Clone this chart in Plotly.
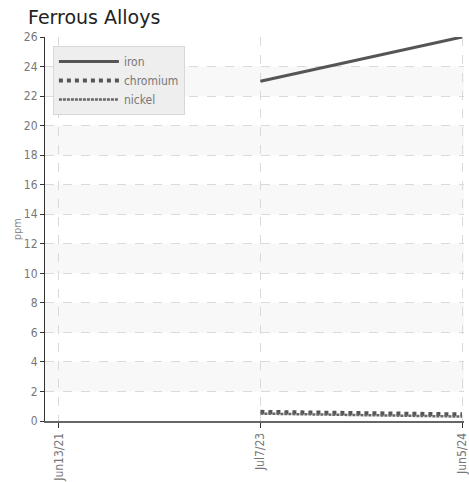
import plotly.graph_objects as go

dates = ["Jun13/21", "Jul7/23", "Jun5/24"]
iron = [None, 23.0, 26.0]
chromium = [None, 0.62, 0.45]
nickel = [None, 0.5, 0.3]

font = "DejaVu Sans Condensed, Liberation Sans, sans-serif"

fig = go.Figure()
fig.add_trace(go.Scatter(x=dates, y=iron, name="iron", mode="lines",
                         line=dict(color="#555555", width=3)))
fig.add_trace(go.Scatter(x=dates, y=chromium, name="chromium", mode="lines",
                         line=dict(color="#555555", width=4, dash="dot")))
fig.add_trace(go.Scatter(x=dates, y=nickel, name="nickel", mode="lines",
                         line=dict(color="#666666", width=2.5, dash="3px,1px")))

shapes = []
for lo in range(2, 26, 4):
    shapes.append(dict(type="rect", xref="paper", yref="y", x0=0, x1=1, y0=lo, y1=lo + 2,
                       fillcolor="#f8f8f8", line=dict(width=0), layer="below"))

fig.update_layout(
    width=469, height=482,
    margin=dict(l=45, r=0, t=37, b=61),
    paper_bgcolor="white", plot_bgcolor="white",
    title=dict(text="Ferrous Alloys", x=28 / 469, xanchor="left", y=1 - 17 / 482, yanchor="middle",
               font=dict(family="DejaVu Sans, sans-serif", size=19, color="#222222")),
    font=dict(family=font, color="#777777", size=11),
    shapes=shapes,
    showlegend=True,
    legend=dict(x=8 / 424, y=1 - 9 / 384, xanchor="left", yanchor="top",
                bgcolor="#eeeeee", bordercolor="#d8d8d8", borderwidth=1,
                font=dict(size=12, color="#777777", family=font),
                tracegroupgap=0, itemwidth=60),
    annotations=[dict(text="ppm", xref="paper", yref="paper", x=-28 / 424, y=0.5,
                      xanchor="center", yanchor="middle", textangle=-90, showarrow=False,
                      font=dict(size=11, color="#888888", family=font))],
    xaxis=dict(type="category", range=[-0.0686, 2.0098],
               showgrid=True, gridcolor="#dadada", griddash="dash", gridwidth=1,
               ticks="outside", ticklen=5, tickcolor="#333333",
               tickangle=-90, tickfont=dict(size=12, color="#777777"),
               showline=True, linecolor="#666666", linewidth=2, zeroline=False),
    yaxis=dict(range=[0, 26], dtick=2, showgrid=True, gridcolor="#dadada", griddash="dash",
               ticks="outside", ticklen=4, tickcolor="#333333",
               tickfont=dict(size=12, color="#777777"),
               showline=True, linecolor="#333333", linewidth=1, zeroline=False),
)

fig.write_html("out.html", config={"displayModeBar": False},
               post_script="document.body.style.margin='0';document.body.style.overflow='hidden';")
